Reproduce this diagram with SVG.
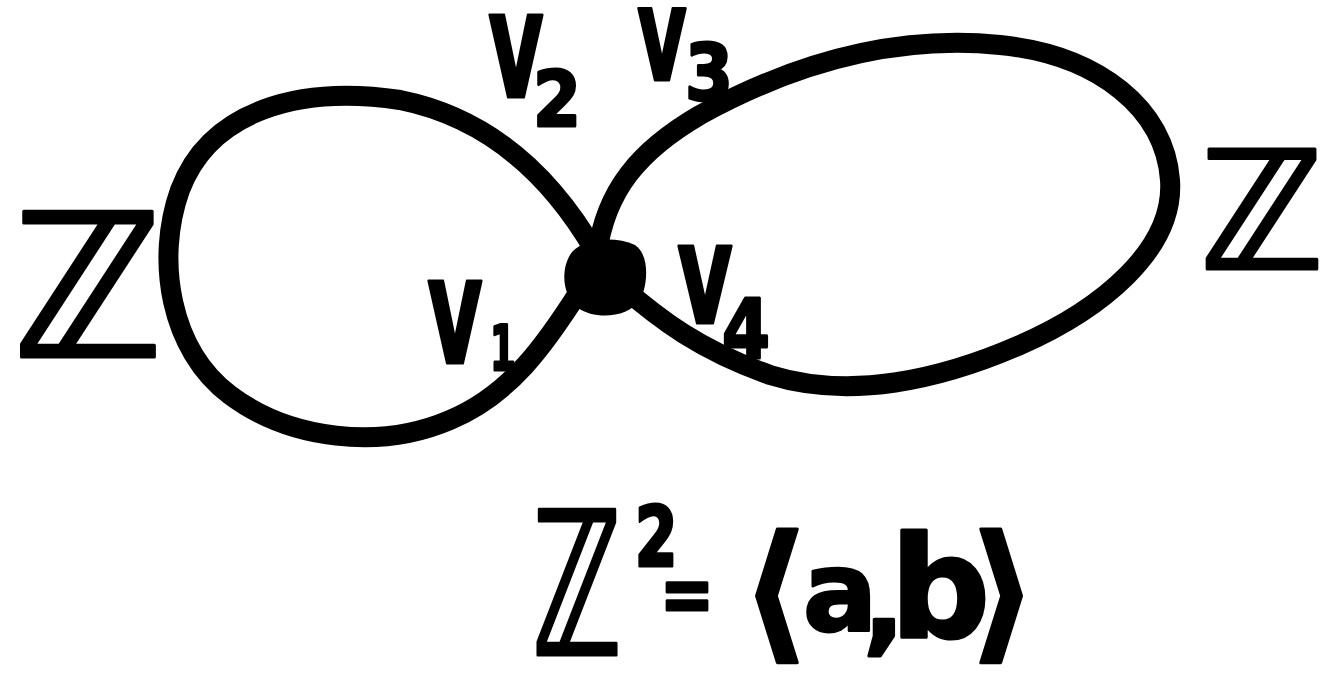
<svg xmlns="http://www.w3.org/2000/svg" width="1326" height="680" viewBox="0 0 1326 680">
<style>
.loop{fill:none;stroke:#000;stroke-width:20;stroke-linecap:round;stroke-linejoin:round}
.lbl{font-family:"DejaVu Sans",sans-serif;font-weight:bold;fill:#000;stroke:#000;stroke-width:3;stroke-linejoin:round}
</style>
<rect width="1326" height="680" fill="#fff"/>
<g id="connectors">
<path id="loop-left" class="loop" d="M597,255 C560,190 500,120 400,100 C300,85 210,110 180,190 C155,260 170,350 230,395 C290,440 380,450 450,420 C510,395 545,345 580,290"/>
<path id="loop-right" class="loop" d="M597,255 C605,190 640,150 700,115 C800,60 900,35 1000,45 C1100,55 1165,110 1170,180 C1175,250 1100,310 1020,345 C940,380 850,400 770,375 C700,350 660,320 620,285"/>
</g>
<g id="vertex">
<path d="M572,252 C585,238 615,236 635,245 C650,255 648,285 640,300 C628,318 595,320 578,308 C562,296 560,268 572,252 Z" fill="#000"/>
</g>
<g id="label-Z-left"><text class="lbl" x="88" y="357" font-size="200" text-anchor="middle">ℤ</text></g>
<g id="label-Z-right"><text class="lbl" x="1262" y="269" font-size="165" text-anchor="middle">ℤ</text></g>
<g id="label-v2"><text class="lbl" y="97"><tspan x="488" font-size="150" textLength="56" lengthAdjust="spacingAndGlyphs">v</tspan><tspan x="533" y="126" font-size="76" textLength="48" lengthAdjust="spacingAndGlyphs">2</tspan></text></g>
<g id="label-v3"><text class="lbl" y="80"><tspan x="637" font-size="130" textLength="50" lengthAdjust="spacingAndGlyphs">v</tspan><tspan x="685" y="100" font-size="78" textLength="48" lengthAdjust="spacingAndGlyphs">3</tspan></text></g>
<g id="label-v1"><text class="lbl" y="363"><tspan x="427" font-size="150" textLength="56" lengthAdjust="spacingAndGlyphs">v</tspan><tspan x="490" y="370" font-size="62" textLength="26" lengthAdjust="spacingAndGlyphs">1</tspan></text></g>
<g id="label-v4"><text class="lbl" y="323"><tspan x="677" font-size="140" textLength="56" lengthAdjust="spacingAndGlyphs">v</tspan><tspan x="722" y="358" font-size="82" textLength="48" lengthAdjust="spacingAndGlyphs">4</tspan></text></g>
<g id="label-formula"><text class="lbl"><tspan x="532" y="655" font-size="200" textLength="90" lengthAdjust="spacingAndGlyphs">ℤ</tspan><tspan x="634" y="615" font-size="150" textLength="44" lengthAdjust="spacingAndGlyphs">²</tspan><tspan x="660" y="622" font-size="80" textLength="54" lengthAdjust="spacingAndGlyphs">=</tspan><tspan x="775" y="643" font-size="150" text-anchor="middle">⟨</tspan><tspan x="840" y="630" font-size="110" text-anchor="middle">a</tspan><tspan x="884" y="640" font-size="110" text-anchor="middle">,</tspan><tspan x="940" y="637" font-size="140" text-anchor="middle">b</tspan><tspan x="1003" y="643" font-size="150" text-anchor="middle">⟩</tspan></text></g>
</svg>
